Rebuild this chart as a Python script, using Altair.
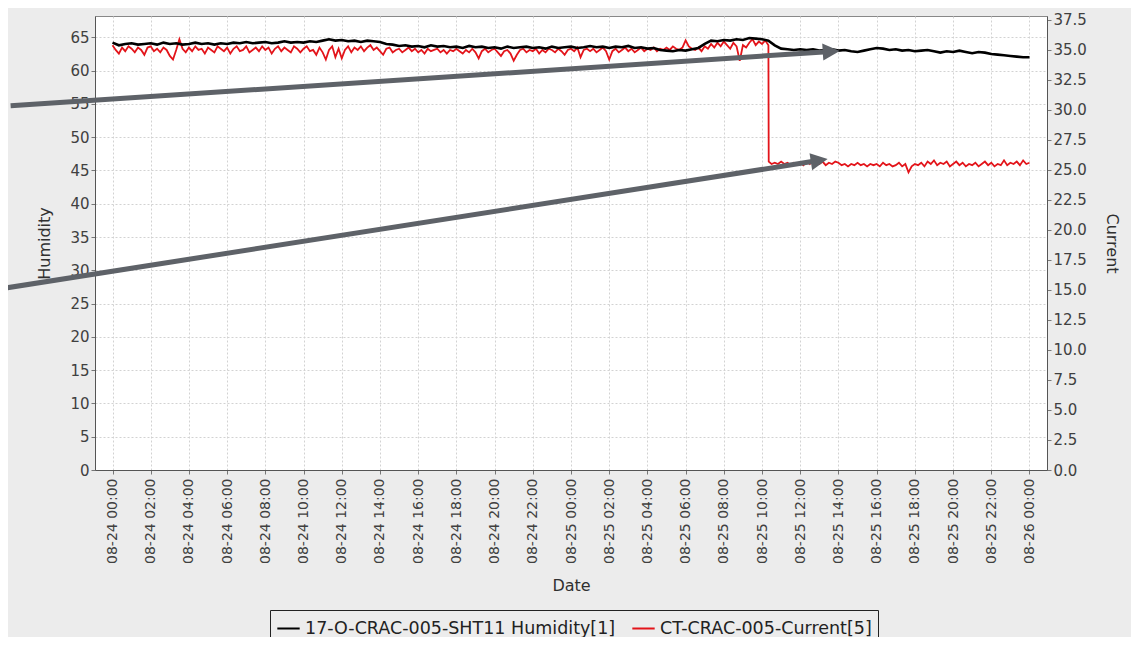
import altair as alt
import pandas as pd

HUM_NAME = "17-O-CRAC-005-SHT11 Humidity[1]"
CUR_NAME = "CT-CRAC-005-Current[5]"

# Humidity readings, every 20 minutes from 08-24 00:00 to 08-26 00:00 (left axis)
humidity = [
    64.2, 63.8, 64.0, 64.1, 63.9, 64.0,
    64.1, 63.9, 64.2, 64.0, 64.1, 63.9,
    64.0, 64.2, 64.0, 64.1, 63.9, 64.1,
    64.0, 64.2, 64.1, 64.3, 64.1, 64.2,
    64.3, 64.1, 64.2, 64.4, 64.2, 64.3,
    64.2, 64.4, 64.3, 64.5, 64.7, 64.5,
    64.6, 64.4, 64.5, 64.3, 64.5, 64.4,
    64.3, 64.0, 63.9, 63.7, 63.8, 63.6,
    63.7, 63.5, 63.8, 63.6, 63.7, 63.5,
    63.6, 63.4, 63.7, 63.5, 63.6, 63.4,
    63.5, 63.3, 63.6, 63.4, 63.5, 63.6,
    63.4, 63.5, 63.3, 63.6, 63.4, 63.5,
    63.6, 63.4, 63.5, 63.7, 63.5, 63.6,
    63.4, 63.6, 63.5, 63.7, 63.4, 63.5,
    63.3, 63.4, 63.1, 63.0, 62.9, 63.1,
    63.0, 63.2, 63.4, 64.0, 64.5, 64.4,
    64.6, 64.5, 64.7, 64.6, 64.9, 64.8,
    64.7, 64.5, 63.8, 63.3, 63.2, 63.1,
    63.2, 63.1, 63.2, 63.0, 63.1, 63.2,
    63.0, 63.1, 62.9, 62.8, 63.0, 63.2,
    63.4, 63.3, 63.1, 63.2, 63.0, 63.1,
    62.9, 63.0, 63.1, 62.9, 62.7, 62.9,
    62.8, 63.0, 62.8, 62.6, 62.8, 62.7,
    62.5, 62.4, 62.3, 62.2, 62.1, 62.0,
    62.0,
]

# Current readings (right axis), every 10 minutes from 08-24 00:00 to 08-25 10:20
current_before = [
    35.4, 35.0, 34.7, 35.2, 34.9, 35.3,
    35.1, 34.8, 35.2, 35.0, 34.6, 35.2,
    35.3, 34.9, 35.1, 34.8, 35.2, 35.0,
    34.5, 34.2, 35.0, 35.9, 35.1, 34.8,
    35.2, 34.9, 35.3, 35.0, 35.1, 34.7,
    35.2, 35.0, 34.8, 35.3, 35.1, 34.9,
    35.2, 34.7, 35.1, 35.3, 34.9, 35.0,
    35.3, 34.8, 35.0, 35.2, 34.9, 35.3,
    35.0, 35.2, 34.7, 35.1, 35.3, 34.9,
    35.2, 35.0, 34.8, 35.3, 35.1, 34.8,
    35.1, 35.3, 34.9, 35.0, 34.6, 35.2,
    34.8, 34.2, 35.0, 35.3, 34.4, 35.1,
    34.3, 35.0, 35.3, 34.8, 35.2, 35.0,
    35.3, 34.9, 35.2, 35.4, 35.0, 35.2,
    34.9, 34.6, 35.1, 35.2, 34.8, 35.0,
    35.1, 34.8, 35.0, 35.2, 34.9, 35.1,
    34.8, 35.0, 34.7, 35.1, 34.9, 35.0,
    35.1, 34.8, 35.0, 34.7, 35.0, 34.9,
    35.1, 34.9, 34.7, 35.0, 34.8, 35.1,
    34.8, 34.3, 34.9, 35.1, 34.8, 35.0,
    35.1, 34.8, 34.5, 34.9, 35.0, 34.7,
    34.1, 34.6, 35.0, 35.1, 34.8, 35.0,
    34.9, 35.1, 34.7, 35.0, 34.8, 35.1,
    35.0, 34.8, 35.1, 34.9, 34.6, 35.0,
    35.1, 34.9, 35.2, 34.4, 35.0, 35.1,
    34.9, 35.1, 34.8, 35.0, 35.2, 34.9,
    34.2, 34.9, 35.1, 34.8, 35.0, 35.2,
    34.9, 35.1, 34.8, 35.0, 35.2, 34.9,
    35.1, 35.0, 35.2, 34.9, 35.1, 35.0,
    35.2, 35.0, 35.3, 35.1, 35.0, 35.2,
    35.8, 35.3, 35.1, 35.0, 35.2, 34.9,
    35.3, 35.1, 35.5, 35.2, 35.6, 35.3,
    35.7, 35.4, 35.1, 35.6, 35.3, 34.1,
    35.4, 35.2, 35.6, 35.9, 35.4, 35.7,
    35.5, 35.8, 35.4,
]
# after the step: 10:21, then 10:30 .. 08-26 00:00 every 10 minutes
current_after = [
    25.7,
    25.5, 25.6, 25.5,
    25.7, 25.5, 25.6, 25.4, 25.6, 25.5,
    25.6, 25.4, 25.7, 25.5, 25.8, 25.6,
    25.5, 25.7, 25.4, 25.6, 25.5, 25.7,
    25.6, 25.4, 25.5, 25.3, 25.5, 25.4,
    25.6, 25.4, 25.5, 25.3, 25.5, 25.4,
    25.5, 25.3, 25.6, 25.4, 25.5, 25.3,
    25.4, 25.6, 25.3, 25.5, 24.8, 25.3,
    25.5, 25.4, 25.6, 25.3, 25.7, 25.5,
    25.8, 25.4, 25.6, 25.5, 25.7, 25.3,
    25.5, 25.7, 25.4, 25.6, 25.3, 25.5,
    25.4, 25.6, 25.3, 25.5, 25.7, 25.4,
    25.6, 25.3, 25.5, 25.4, 25.8, 25.4,
    25.6, 25.5, 25.7, 25.4, 25.8, 25.5,
    25.6,
]

# x tick positions: every 2 hours
tick_hours = list(range(0, 49, 2))

hum_times = pd.date_range("2014-08-24 00:00", periods=len(humidity), freq="20min")
cur_times = (list(pd.date_range("2014-08-24 00:00", "2014-08-25 10:20", freq="10min"))
             + [pd.Timestamp("2014-08-25 10:21")]
             + list(pd.date_range("2014-08-25 10:30", "2014-08-26 00:00", freq="10min")))
current = current_before + current_after

FMT = "%Y-%m-%dT%H:%M:%S"
df_h = pd.DataFrame({"t": [t.strftime(FMT) for t in hum_times], "v": humidity, "s": HUM_NAME})
df_c = pd.DataFrame({"t": [t.strftime(FMT) for t in cur_times], "v": current, "s": CUR_NAME})

# Annotation arrows (in data units: time and humidity scale)
arrow_start_time = ["2014-08-23 18:40", "2014-08-23 18:05"]
arrow_start_val = [54.7, 27.2]
arrow_tip_time = ["2014-08-25 14:04", "2014-08-25 13:26"]
arrow_tip_val = [62.95, 46.7]
arrow_angle = [356.2, 351.1]

shaft_rows = []
head_rows = []
for st, sv, et, ev in zip(arrow_start_time, arrow_start_val, arrow_tip_time, arrow_tip_val):
    s_ts, e_ts = pd.Timestamp(st), pd.Timestamp(et)
    f = 0.985
    shaft_t = s_ts + (e_ts - s_ts) * f
    shaft_v = sv + (ev - sv) * f
    shaft_rows.append({"xs": s_ts.strftime(FMT), "ys": sv, "xe": shaft_t.strftime(FMT), "ye": shaft_v})
    head_rows.append({"xt": e_ts.strftime(FMT), "yt": ev})
df_s = pd.DataFrame(shaft_rows)

FONT = "DejaVu Sans"
x_dom = [alt.DateTime(year=2014, month=8, date=23, hours=23, minutes=5),
         alt.DateTime(year=2014, month=8, date=26, hours=0, minutes=55)]
x_scale = alt.Scale(domain=x_dom)
x_ticks = [alt.DateTime(year=2014, month=8, date=24 + h // 24, hours=h % 24) for h in tick_hours]
x_axis = alt.Axis(title="Date", format="%m-%d %H:%M", labelAngle=270, values=x_ticks, grid=True,
                  labelOverlap=False, labelFlush=False, labelPadding=4, titlePadding=14,
                  labelFontSize=14)

hum_scale = alt.Scale(domain=[0, 68.2], nice=False, zero=True)
cur_scale = alt.Scale(domain=[0, 37.83], nice=False, zero=True)

color_scale = alt.Scale(domain=[HUM_NAME, CUR_NAME], range=["#000000", "#e3141a"])
legend = alt.Legend(title=None, orient="none", legendX=175, legendY=594, direction="horizontal",
                    symbolType="stroke", symbolStrokeWidth=2, symbolSize=500,
                    labelFontSize=17.5, labelFont=FONT, labelColor="#222222", labelLimit=0,
                    strokeColor="#222222", padding=6, fillColor="#ececec", columnPadding=12)

cur_line = alt.Chart(df_c).mark_line(strokeWidth=1.8).encode(
    x=alt.X("t:T", scale=x_scale, axis=x_axis),
    y=alt.Y("v:Q", scale=cur_scale,
            axis=alt.Axis(orient="right", title="Current", values=[i * 2.5 for i in range(16)],
                          format=".1f", grid=False, titlePadding=17, labelFontSize=15)),
    color=alt.Color("s:N", scale=color_scale, legend=legend),
)

hum_line = alt.Chart(df_h).mark_line(strokeWidth=2.6).encode(
    x=alt.X("t:T", scale=x_scale, axis=x_axis),
    y=alt.Y("v:Q", scale=hum_scale,
            axis=alt.Axis(orient="left", title="Humidity", values=list(range(0, 70, 5)),
                          grid=True, titlePadding=17, labelFontSize=15)),
    color=alt.Color("s:N", scale=color_scale, legend=legend),
)

arrow_color = "#5e6268"
shafts = alt.Chart(df_s).mark_rule(strokeWidth=5, color=arrow_color).encode(
    x=alt.X("xs:T", scale=x_scale, axis=x_axis),
    x2="xe:T",
    y=alt.Y("ys:Q", scale=hum_scale, axis=None),
    y2="ye:Q",
)
head_layers = []
for row, ang in zip(head_rows, arrow_angle):
    head_layers.append(
        alt.Chart(pd.DataFrame([row])).mark_point(
            shape="M0,0L-2,-1L-2,1Z", size=289, filled=True, opacity=1,
            color=arrow_color, strokeWidth=0, angle=ang).encode(
            x=alt.X("xt:T", scale=x_scale, axis=x_axis),
            y=alt.Y("yt:Q", scale=hum_scale, axis=None),
        )
    )
arrows = alt.layer(shafts, *head_layers)

chart = alt.layer(cur_line, hum_line, arrows).resolve_scale(y="independent").properties(
    width=952, height=454,
    padding={"left": 87, "top": 8, "right": 84, "bottom": 167},
    autosize=alt.AutoSizeParams(type="none"),
    background="#ececec",
).configure_axis(
    labelFont=FONT, titleFont=FONT, labelFontSize=14, titleFontSize=16,
    titleFontWeight="normal", labelColor="#404040", titleColor="#303030",
    domainColor="#555555", tickColor="#777777", tickSize=4,
    gridColor="#d2d2d2", gridDash=[2, 2], gridWidth=1,
).configure_view(stroke="#888888", strokeWidth=1, fill="white")

chart.save("out.html", embed_options={"renderer": "svg", "actions": False})
